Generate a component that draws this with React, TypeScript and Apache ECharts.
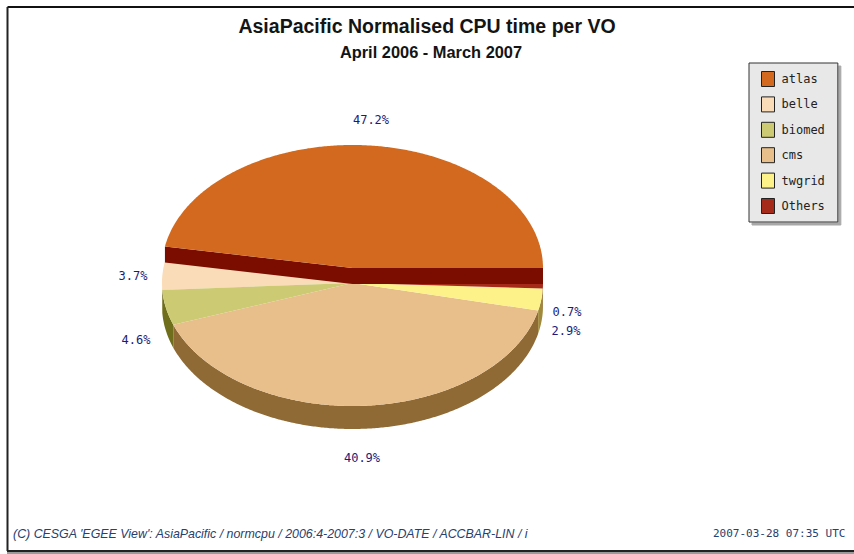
import React, { useEffect, useRef } from "react";
import * as echarts from "echarts";

const categories = ["atlas", "belle", "biomed", "cms", "twgrid", "Others"];
const shares = [47.2, 3.7, 4.6, 40.9, 2.9, 0.7];
const titleText = "AsiaPacific Normalised CPU time per VO";
const subtitleText = "April 2006 - March 2007";
const footerLeft = "(C) CESGA 'EGEE View': AsiaPacific / normcpu / 2006:4-2007:3 / VO-DATE / ACCBAR-LIN / i";
const footerRight = "2007-03-28 07:35 UTC";

const faceColors = ["#d2691e", "#fadcb8", "#cccb73", "#e8be8b", "#fdf28a", "#a52a1a"];
const wallColors = ["#7a0d00", "#a89070", "#6e6e1c", "#8f6a35", "#a08a3a", "#6e1a10"];
const labelSpots: [number, number][] = [
  [371, 120], [133, 276], [136, 340], [362, 458], [566, 331], [567, 312],
];

const CX = 352.5;
const CY = 283;
const RX = 190.5;
const RY = 123;
const LIFT = 15; // the first slice's face sits this far above the others
const WALL = 23;
const total = shares.reduce((a, b) => a + b, 0);

const startAngle = (i: number) =>
  (shares.slice(0, i).reduce((a, b) => a + b, 0) / total) * 360;

const rim = (deg: number, cy: number): [number, number] => {
  const r = (deg * Math.PI) / 180;
  return [CX + RX * Math.cos(r), cy - RY * Math.sin(r)];
};

const arcPoints = (from: number, to: number, cy: number) => {
  const pts: [number, number][] = [];
  const n = Math.max(2, Math.ceil((to - from) / 0.5));
  for (let k = 0; k <= n; k++) pts.push(rim(from + ((to - from) * k) / n, cy));
  return pts;
};

const makeRender = (i: number) => (_params: any, api: any) => {
  const value = api.value(0);
  const from = startAngle(i);
  const to = from + (value / total) * 360;
  const children: any[] = [];
  if (i === 0) {
    const cy = CY - LIFT;
    const a = rim(from, cy);
    const b = rim(to, cy);
    children.push({
      type: "polygon",
      shape: {
        points: [b, [CX, cy], a, [a[0], a[1] + LIFT + 1], [CX, cy + LIFT + 1], [b[0], b[1] + LIFT + 1]],
      },
      style: { fill: wallColors[i] },
    });
    children.push({
      type: "polygon",
      shape: { points: [[CX, cy], ...arcPoints(from, to, cy)] },
      style: { fill: faceColors[i] },
    });
  } else {
    const wf = Math.max(from, 180);
    if (to > wf) {
      const top = arcPoints(wf, to, CY);
      const bottom = arcPoints(wf, to, CY + WALL).reverse();
      children.push({
        type: "polygon",
        shape: { points: [...top, ...bottom] },
        style: { fill: wallColors[i] },
      });
    }
    children.push({
      type: "polygon",
      shape: { points: [[CX, CY], ...arcPoints(from, to, CY)] },
      style: { fill: faceColors[i] },
    });
  }
  children.push({
    type: "text",
    x: labelSpots[i][0],
    y: labelSpots[i][1],
    style: {
      text: value.toFixed(1) + "%",
      fill: "#1c1c78",
      font: '12px "DejaVu Sans Mono"',
      align: "center",
      verticalAlign: "middle",
    },
  });
  return { type: "group", children };
};

export default function App() {
  const ref = useRef<HTMLDivElement>(null);
  useEffect(() => {
    document.body.style.margin = "0";
    const chart = echarts.init(ref.current!, undefined, { renderer: "svg" });
    chart.setOption({
      animation: false,
      backgroundColor: "#ffffff",
      title: [
        {
          text: titleText,
          left: 422,
          top: 11,
          textAlign: "center",
          textStyle: { fontFamily: "Liberation Sans", fontWeight: "bold", fontSize: 19.5, color: "#141414" },
        },
        {
          text: subtitleText,
          left: 426,
          top: 39,
          textAlign: "center",
          textStyle: { fontFamily: "Liberation Sans", fontWeight: "bold", fontSize: 16.4, color: "#141414" },
        },
        {
          text: footerLeft,
          left: 8,
          top: 523,
          textStyle: { fontFamily: "Liberation Sans", fontStyle: "italic", fontWeight: "normal", fontSize: 12.4, color: "#27406e" },
        },
        {
          text: footerRight,
          left: 708,
          top: 523,
          textStyle: { fontFamily: "DejaVu Sans Mono", fontWeight: "normal", fontSize: 11, color: "#27406e" },
        },
      ],
      legend: {
        orient: "vertical",
        left: 749,
        top: 63,
        icon: "rect",
        data: categories,
        selectedMode: false,
        itemWidth: 13,
        itemHeight: 15,
        itemGap: 9.4,
        padding: [8, 13, 8, 12],
        backgroundColor: "#e8e8e8",
        borderColor: "#333333",
        borderWidth: 1,
        borderRadius: 0,
        shadowColor: "#a8a8a8",
        shadowOffsetX: 3,
        shadowOffsetY: 3,
        shadowBlur: 0,
        itemStyle: { borderColor: "#222222", borderWidth: 1 },
        textStyle: { fontFamily: "DejaVu Sans Mono", fontSize: 12, color: "#222222", padding: [0, 0, 0, 2] },
      },
      graphic: [
        { type: "line", shape: { x1: 7.5, y1: 7, x2: 854, y2: 7 }, style: { stroke: "#111111", lineWidth: 2 } },
        { type: "line", shape: { x1: 7.5, y1: 7, x2: 7.5, y2: 551 }, style: { stroke: "#222222", lineWidth: 2 } },
        { type: "line", shape: { x1: 7, y1: 551, x2: 854, y2: 551 }, style: { stroke: "#222222", lineWidth: 2 } },
        { type: "rect", shape: { x: 7, y: 552, width: 847, height: 2 }, style: { fill: "#9a9a9a" } },
      ],
      series: categories.map((name, i) => ({
        type: "custom",
        name,
        coordinateSystem: "none",
        silent: true,
        z: i === 0 ? 3 : 2,
        itemStyle: { color: faceColors[i] },
        data: [[shares[i]]],
        renderItem: makeRender(i),
      })),
    });
    return () => chart.dispose();
  }, []);
  return <div ref={ref} style={{ position: "fixed", left: 0, top: 0, width: 854, height: 554 }} />;
}
